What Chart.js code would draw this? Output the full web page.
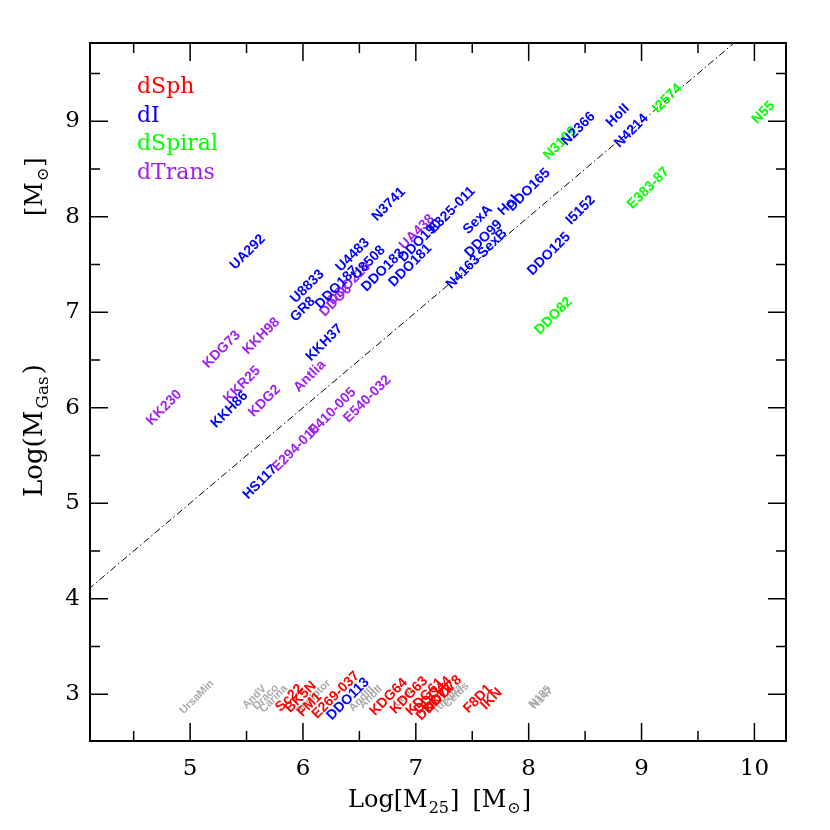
<!DOCTYPE html>
<html>
<head>
<meta charset="utf-8">
<script src="https://cdn.jsdelivr.net/npm/chart.js@4.4.0/dist/chart.umd.min.js"></script>
<style>
html, body { margin: 0; padding: 0; background: #fff; }
</style>
</head>
<body>
<canvas id="myChart" width="830" height="830"></canvas>
<script>
// dSph (red)
const dSphNames = ["Sc22", "BK5N", "FM1", "E269-037", "KDG64", "KDG63", "KDG61", "DDO44", "KK77", "DDO78", "DDO71", "F8D1", "IKN"];
const dSphM25 = [5.88, 5.98, 6.06, 6.29, 6.76, 6.94, 7.08, 7.15, 7.20, 7.24, 7.17, 7.55, 7.67];
const dSphGas = [2.96, 2.97, 2.89, 2.99, 2.97, 2.99, 2.97, 2.99, 2.95, 3.00, 2.92, 2.95, 2.95];

// dI (blue)
const dIrrNames = ["UA292", "U8833", "GR8", "U4483", "DDO187", "N3741", "U8508", "DDO183", "DDO181", "DDO190",
  "E325-011", "SexA", "DDO99", "SexB", "HoI", "DDO165", "N4163", "DDO125", "I5152", "N2366", "HoII", "N4214",
  "KKH37", "KKH86", "HS117", "DDO113"];
const dIrrM25 = [5.51, 6.04, 6.00, 6.44, 6.30, 6.76, 6.58, 6.71, 6.95, 7.04,
  7.32, 7.55, 7.60, 7.68, 7.82, 8.00, 7.42, 8.18, 8.46, 8.44, 8.79, 8.91,
  6.19, 5.35, 5.62, 6.40];
const dIrrGas = [7.63, 7.27, 7.03, 7.60, 7.26, 8.13, 7.52, 7.44, 7.49, 7.75,
  8.07, 7.97, 7.77, 7.72, 8.12, 8.28, 7.42, 7.61, 8.07, 8.92, 9.06, 8.90,
  6.68, 5.98, 5.22, 2.95];

// dSpiral (green)
const dSpiralNames = ["N3109", "I2574", "N55", "E383-87", "DDO82"];
const dSpiralM25 = [8.28, 9.23, 10.08, 9.06, 8.22];
const dSpiralGas = [8.77, 9.24, 9.09, 8.30, 6.96];

// dTrans (purple)
const dTransNames = ["KDG73", "KKH98", "KKR25", "KDG2", "KK230", "Antlia", "E410-005", "E540-032", "E294-010", "DDO6", "DDO210", "UA438"];
const dTransM25 = [5.28, 5.63, 5.46, 5.66, 4.77, 6.06, 6.26, 6.57, 5.94, 6.29, 6.41, 7.01];
const dTransGas = [6.61, 6.75, 6.24, 6.07, 6.00, 6.33, 5.96, 6.09, 5.58, 7.12, 7.30, 7.84];

// Local Group dSph without gas (grey)
const lgNames = ["UrsaMin", "AndV", "Draco", "Carina", "Sculptor", "AndIII", "AndII", "LeoI", "Tucana", "Cetus", "N185", "N147"];
const lgM25 = [5.06, 5.57, 5.67, 5.74, 6.09, 6.52, 6.60, 6.89, 7.28, 7.36, 8.10, 8.12];
const lgGas = [2.97, 2.97, 2.97, 2.95, 2.97, 2.95, 2.97, 2.97, 2.95, 2.99, 2.97, 2.96];

// 1:1 line
const lineX = [4, 10.5];
const lineY = [4, 10.5];

const xTicks = [5, 6, 7, 8, 9, 10];
const yTicks = [3, 4, 5, 6, 7, 8, 9];

const legendNames = ["dSph", "dI", "dSpiral", "dTrans"];
const legendColors = ["#ff0000", "#0000ff", "#00ff00", "#a020f0"];

function toPoints(xs, ys) {
    return xs.map((x, i) => ({ x: x, y: ys[i] }));
}

function labelSet(names, xs, ys, color, font) {
    return {
        type: 'scatter',
        data: toPoints(xs, ys),
        names: names,
        textColor: color,
        textFont: font,
        pointRadius: 0,
        pointHoverRadius: 0,
        showLine: false
    };
}

const labelFont = "bold 14px 'Liberation Sans'";
const greyFont = "bold 11px 'Liberation Sans'";
const serif = "'DejaVu Serif'";

// draw a string made of normal and subscript parts, left aligned at (x, y) baseline
function drawRich(ctx, parts, x, y, big, small, spacing) {
    let cx = x;
    parts.forEach(p => {
        if (p.gap) { cx += p.gap; return; }
        ctx.font = (p.sub ? small : big) + "px " + serif;
        ctx.fillText(p.t, cx, p.sub ? y + 6 : y);
        cx += ctx.measureText(p.t).width + spacing;
    });
}

const drawPlugin = {
    id: 'drawPlugin',
    afterDatasetsDraw(chart) {
        const ctx = chart.ctx;
        chart.data.datasets.forEach((ds, di) => {
            if (!ds.names) return;
            const meta = chart.getDatasetMeta(di);
            meta.data.forEach((el, i) => {
                ctx.save();
                ctx.translate(el.x, el.y);
                ctx.rotate(-Math.PI / 4);
                ctx.font = ds.textFont;
                ctx.fillStyle = ds.textColor;
                ctx.textAlign = 'center';
                ctx.textBaseline = 'middle';
                ctx.fillText(ds.names[i], 0, 0);
                ctx.restore();
            });
        });
    },
    afterDraw(chart) {
        const ctx = chart.ctx;
        const a = chart.chartArea;
        const xs = chart.scales.x;
        const ys = chart.scales.y;
        ctx.save();
        ctx.strokeStyle = '#000';
        ctx.lineWidth = 2;
        ctx.strokeRect(a.left, a.top, a.right - a.left, a.bottom - a.top);

        // inward ticks on all four sides
        ctx.lineWidth = 1.5;
        ctx.beginPath();
        for (let v = 4.5; v <= 10.25; v += 0.5) {
            const px = xs.getPixelForValue(v);
            const len = Number.isInteger(v) ? 18 : 10;
            ctx.moveTo(px, a.bottom); ctx.lineTo(px, a.bottom - len);
            ctx.moveTo(px, a.top); ctx.lineTo(px, a.top + len);
        }
        for (let v = 3; v <= 9.5; v += 0.5) {
            const py = ys.getPixelForValue(v);
            const len = Number.isInteger(v) ? 18 : 10;
            ctx.moveTo(a.left, py); ctx.lineTo(a.left + len, py);
            ctx.moveTo(a.right, py); ctx.lineTo(a.right - len, py);
        }
        ctx.stroke();

        // tick labels
        ctx.fillStyle = '#000';
        ctx.font = "23px " + serif;
        ctx.textAlign = 'center';
        ctx.textBaseline = 'middle';
        xTicks.forEach(v => ctx.fillText(String(v), xs.getPixelForValue(v), a.bottom + 28));
        ctx.textAlign = 'right';
        yTicks.forEach(v => ctx.fillText(String(v), a.left - 10, ys.getPixelForValue(v)));

        // axis titles
        ctx.textAlign = 'left';
        ctx.textBaseline = 'alphabetic';
        drawRich(ctx, [{ t: "Log[M" }, { t: "25", sub: true }, { t: "]" }, { gap: 12 }, { t: "[M" }, { t: "\u2299", sub: true }, { t: "]" }], 348, 807, 24, 16, 1);

        ctx.save();
        ctx.translate(42, 497);
        ctx.rotate(-Math.PI / 2);
        drawRich(ctx, [{ t: "Log(M" }, { t: "Gas", sub: true }, { t: ")" }], 0, 0, 26, 17, 2);
        ctx.restore();
        ctx.save();
        ctx.translate(42, 216);
        ctx.rotate(-Math.PI / 2);
        drawRich(ctx, [{ t: "[M" }, { t: "\u2299", sub: true }, { t: "]" }], 0, 0, 24, 16, 1);
        ctx.restore();

        // legend
        ctx.font = "22px " + serif;
        legendNames.forEach((n, i) => {
            ctx.fillStyle = legendColors[i];
            ctx.fillText(n, 137, 93 + i * 28.5);
        });
        ctx.restore();
    }
};

const ctx = document.getElementById('myChart').getContext('2d');
const myChart = new Chart(ctx, {
    type: 'scatter',
    data: {
        datasets: [
            {
                type: 'line',
                data: toPoints(lineX, lineY),
                borderColor: '#000',
                borderWidth: 1,
                borderDash: [7, 3, 1.5, 3],
                pointRadius: 0,
                fill: false
            },
            labelSet(lgNames, lgM25, lgGas, '#aaaaaa', greyFont),
            labelSet(dTransNames, dTransM25, dTransGas, '#a020f0', labelFont),
            labelSet(dSpiralNames, dSpiralM25, dSpiralGas, '#00ff00', labelFont),
            labelSet(dIrrNames, dIrrM25, dIrrGas, '#0000ff', labelFont),
            labelSet(dSphNames, dSphM25, dSphGas, '#ff0000', labelFont)
        ]
    },
    options: {
        responsive: false,
        animation: false,
        devicePixelRatio: 1,
        layout: { padding: { left: 90, right: 44, top: 43, bottom: 89 } },
        plugins: { legend: { display: false }, tooltip: { enabled: false } },
        scales: {
            x: { type: 'linear', min: 4.113, max: 10.28, display: false },
            y: { type: 'linear', min: 2.51, max: 9.82, display: false }
        }
    },
    plugins: [drawPlugin]
});
</script>
</body>
</html>
